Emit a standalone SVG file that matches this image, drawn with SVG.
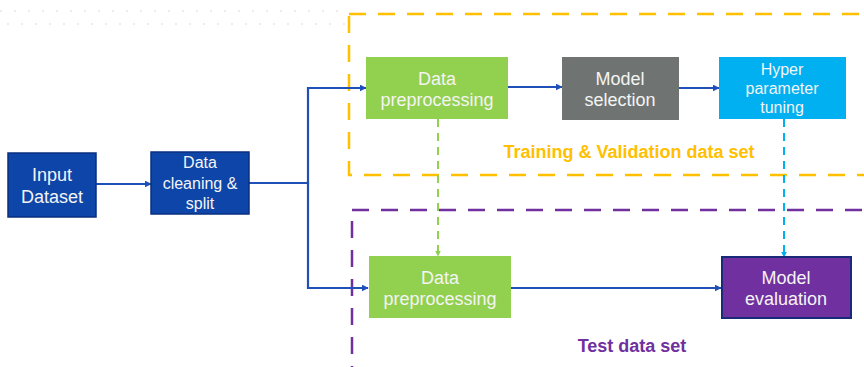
<svg xmlns="http://www.w3.org/2000/svg" width="864" height="367" viewBox="0 0 864 367">
<defs>
<marker id="ah" viewBox="0 0 10 10" refX="9" refY="5" markerWidth="7" markerHeight="7" orient="auto" markerUnits="userSpaceOnUse"><path d="M0,0 L10,5 L0,10 z" fill="#1F4FB8"/></marker>
<marker id="ahg" viewBox="0 0 10 10" refX="9" refY="5" markerWidth="6" markerHeight="6" orient="auto" markerUnits="userSpaceOnUse"><path d="M0,0 L10,5 L0,10 z" fill="#92D050"/></marker>
<marker id="ahb" viewBox="0 0 10 10" refX="9" refY="5" markerWidth="6" markerHeight="6" orient="auto" markerUnits="userSpaceOnUse"><path d="M0,0 L10,5 L0,10 z" fill="#00B0F0"/></marker>
</defs>
<style>
text{font-family:"Liberation Sans",Arial,sans-serif;text-anchor:middle}
.w{fill:#F4F4F4}
.blue{fill:#0D45A8;stroke:#0A2F80;stroke-width:1.5}
.green{fill:#92D050}
.gray{fill:#6F7472}
.cyan{fill:#00B0F0}
.purp{fill:#7030A0;stroke:#1A2A7A;stroke-width:2}
.conn{fill:none;stroke:#1F4FB8;stroke-width:2.2;marker-end:url(#ah)}
.dots{stroke:#EDEDED;stroke-width:2;stroke-dasharray:2 12}
</style>
<rect width="864" height="367" fill="#FFFFFF"/>
<line class="dots" x1="0" y1="11" x2="345" y2="11"/>
<line class="dots" x1="7" y1="24" x2="345" y2="24"/>

<g id="training-group">
<rect x="349" y="14" width="530" height="161" fill="none" stroke="#FFC000" stroke-width="2.5" stroke-dasharray="17 12"/>
<text x="629" y="158" font-size="18" font-weight="bold" fill="#FFC000">Training &amp; Validation data set</text>
</g>
<g id="test-group">
<rect x="352" y="210" width="530" height="180" fill="none" stroke="#7030A0" stroke-width="2.5" stroke-dasharray="17 12"/>
<text x="632" y="352" font-size="18" font-weight="bold" fill="#7030A0">Test data set</text>
</g>

<g id="connectors">
<line class="conn" x1="96" y1="184" x2="151" y2="184"/>
<polyline class="conn" points="249,183 308,183 308,88 366,88"/>
<polyline class="conn" points="308,183 308,288 368,288"/>
<line class="conn" x1="508" y1="87" x2="562" y2="87"/>
<line class="conn" x1="679" y1="88" x2="719" y2="88"/>
<line class="conn" x1="511" y1="288" x2="721" y2="288"/>
<line x1="438" y1="119" x2="438" y2="256" fill="none" stroke="#92D050" stroke-width="2" stroke-dasharray="8 6" marker-end="url(#ahg)"/>
<line x1="784" y1="119" x2="784" y2="257" fill="none" stroke="#00B0F0" stroke-width="2" stroke-dasharray="8 6" marker-end="url(#ahb)"/>
</g>

<g id="input-dataset">
<rect class="blue" x="8" y="153" width="88" height="64"/>
<text class="w" x="52" y="181" font-size="18">Input</text>
<text class="w" x="52" y="203" font-size="18">Dataset</text>
</g>
<g id="data-cleaning">
<rect class="blue" x="151" y="152" width="98" height="62"/>
<text class="w" x="200" y="168" font-size="16">Data</text>
<text class="w" x="200" y="189" font-size="16">cleaning &amp;</text>
<text class="w" x="200" y="209" font-size="16">split</text>
</g>
<g id="preprocessing-train">
<rect class="green" x="366" y="57" width="142" height="62"/>
<text class="w" x="437" y="85" font-size="18">Data</text>
<text class="w" x="437" y="106" font-size="18">preprocessing</text>
</g>
<g id="model-selection">
<rect class="gray" x="562" y="57" width="117" height="63"/>
<text class="w" x="620" y="85" font-size="18">Model</text>
<text class="w" x="620" y="106" font-size="18">selection</text>
</g>
<g id="hyper-tuning">
<rect class="cyan" x="719" y="57" width="127" height="62"/>
<text class="w" x="782" y="75" font-size="16">Hyper</text>
<text class="w" x="782" y="94" font-size="16">parameter</text>
<text class="w" x="782" y="113" font-size="16">tuning</text>
</g>
<g id="preprocessing-test">
<rect class="green" x="369" y="256" width="142" height="62"/>
<text class="w" x="440" y="284" font-size="18">Data</text>
<text class="w" x="440" y="305" font-size="18">preprocessing</text>
</g>
<g id="model-evaluation">
<rect class="purp" x="722" y="257" width="129" height="61"/>
<text class="w" x="786" y="284" font-size="18">Model</text>
<text class="w" x="786" y="305" font-size="18">evaluation</text>
</g>
</svg>
